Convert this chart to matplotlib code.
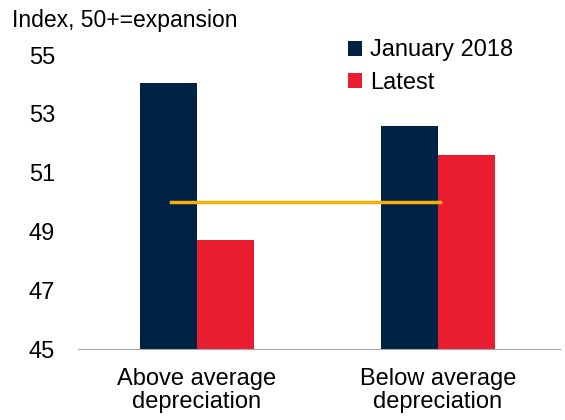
import numpy as np
import matplotlib.pyplot as plt

plt.rcParams['font.family'] = ['Liberation Sans', 'DejaVu Sans']

categories = ["Above average\ndepreciation", "Below average\ndepreciation"]
jan_2018 = [54.05, 52.6]
latest = [48.7, 51.6]
threshold = 50.0
y_ticks = [45, 47, 49, 51, 53, 55]

fig = plt.figure(figsize=(5.65, 4.2), dpi=100)
ax = fig.add_axes([0.138, 0.169, 0.853, 0.70])

x = np.arange(len(categories))
w = 0.236
ax.bar(x - w / 2, jan_2018, w, color="#002244", label="January 2018")
ax.bar(x + w / 2, latest, w, color="#E91D2F", label="Latest")
ax.plot([-0.11, 1.01], [threshold, threshold], color="#F5B10A", lw=2.5)

ax.set_ylim(45, 55)
ax.set_xlim(-0.494, 1.506)
ax.set_yticks(y_ticks)
ax.set_xticks(x)
ax.set_xticklabels(categories, fontsize=17, linespacing=1.05)
ax.tick_params(axis="both", length=0, labelsize=17)
ax.tick_params(axis="y", pad=16.5)
ax.tick_params(axis="x", pad=14)

for s in ["top", "right", "left"]:
    ax.spines[s].set_visible(False)
ax.spines["bottom"].set_color("#A6A6A6")

fig.text(0.022, 0.952, "Index, 50+=expansion", fontsize=16.5, va="center")

ax.legend(loc="upper left", bbox_to_anchor=(0.54, 1.085), frameon=False,
          fontsize=17, handlelength=0.6, handleheight=0.6, handletextpad=0.35,
          labelspacing=0.45, borderaxespad=0)

plt.savefig("out.png", dpi=100)
